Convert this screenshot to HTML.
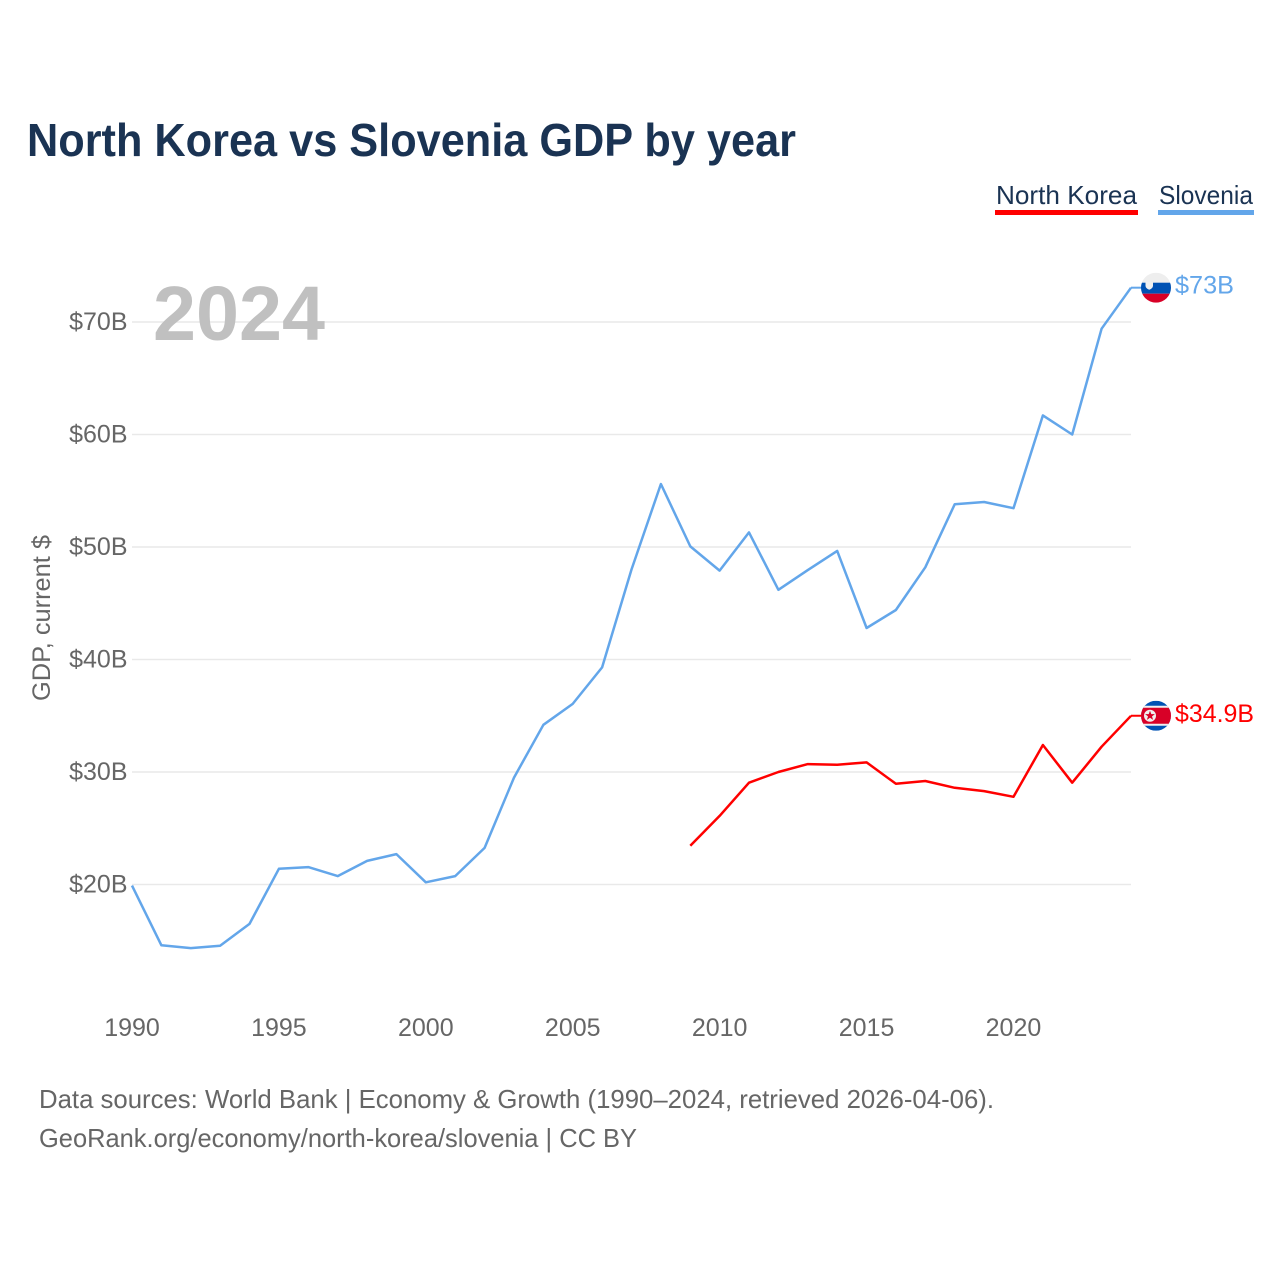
<!DOCTYPE html>
<html lang="en">
<head>
<meta charset="utf-8">
<title>North Korea vs Slovenia GDP by year</title>
<style>
html,body{margin:0;padding:0;background:#fff;width:1280px;height:1280px;overflow:hidden}
svg{display:block}
text{font-family:"Liberation Sans",sans-serif}
</style>
</head>
<body>
<svg id="chart" width="1280" height="1280" viewBox="0 0 1280 1280" xmlns="http://www.w3.org/2000/svg">
  <defs>
    <clipPath id="flag-clip-si"><circle cx="15" cy="15" r="15"/></clipPath>
    <clipPath id="flag-clip-kp"><circle cx="15" cy="15" r="15"/></clipPath>
  </defs>
  <rect width="1280" height="1280" fill="#fff"/>
  <text x="27" y="156" font-size="46" font-weight="700" fill="#1a3353" textLength="769" lengthAdjust="spacingAndGlyphs">North Korea vs Slovenia GDP by year</text>

  <g>
    <text x="996" y="204" font-size="26" fill="#1a3353" textLength="141" lengthAdjust="spacingAndGlyphs">North Korea</text>
    <rect x="995" y="210" width="143" height="5" fill="#ff0000"/>
    <text x="1159" y="204" font-size="26" fill="#1a3353" textLength="94" lengthAdjust="spacingAndGlyphs">Slovenia</text>
    <rect x="1158" y="210" width="96" height="5" fill="#63a6ea"/>
  </g>

  <g id="grid"></g>
  <g id="yticks"></g>
  <g id="xticks"></g>

  <text x="153" y="340" font-size="77" font-weight="700" fill="#c0c0c0" textLength="172" lengthAdjust="spacingAndGlyphs">2024</text>
  <text transform="translate(50,701) rotate(-90)" font-size="25" fill="#666" textLength="166" lengthAdjust="spacingAndGlyphs">GDP, current $</text>

  <g id="series"></g>
  <g id="ends"></g>

  <text x="39" y="1108" font-size="26" fill="#666" textLength="955" lengthAdjust="spacingAndGlyphs">Data sources: World Bank | Economy &amp; Growth (1990–2024, retrieved 2026-04-06).</text>
  <text x="39" y="1147" font-size="26" fill="#666" textLength="598" lengthAdjust="spacingAndGlyphs">GeoRank.org/economy/north-korea/slovenia | CC BY</text>
</svg>
<script>
const slovenia = [19.9,14.6,14.35,14.55,16.5,21.4,21.55,20.75,22.1,22.7,20.2,20.75,23.25,29.5,34.2,36.05,39.3,48,55.6,50.05,47.9,51.3,46.2,47.95,49.65,42.8,44.4,48.2,53.8,54.0,53.45,61.7,60,69.4,73.05];
const northKoreaYears = [2009,2010,2011,2012,2013,2014,2015,2016,2017,2018,2019,2020,2021,2022,2023,2024];
const northKorea = [23.45,26.1,29.05,30,30.7,30.65,30.85,28.95,29.2,28.6,28.3,27.8,32.4,29.05,32.25,35.0];
const sloveniaStartYear = 1990;
const yTicks = [20,30,40,50,60,70];
const xTicks = [1990,1995,2000,2005,2010,2015,2020];
const sloveniaEndLabel = "$73B";
const northKoreaEndLabel = "$34.9B";

const SVGNS = "http://www.w3.org/2000/svg";
const xScale = year => 132 + (year - 1990) * (1131 - 132) / 34;
const yScale = value => 884.5 - (value - 20) * 11.25;

function make(tag, attrs, parent) {
  const el = document.createElementNS(SVGNS, tag);
  for (const key in attrs) el.setAttribute(key, attrs[key]);
  parent.appendChild(el);
  return el;
}

const grid = document.getElementById("grid");
const yticks = document.getElementById("yticks");
const xticks = document.getElementById("xticks");
const series = document.getElementById("series");
const ends = document.getElementById("ends");

yTicks.forEach(v => {
  const line = make("line", {x1: 132, x2: 1131, y1: yScale(v), y2: yScale(v), stroke: "#e9e9e9", "stroke-width": 1.5}, grid);
  
  
  const label = make("text", {x: 127.5, y: yScale(v) + 8, "text-anchor": "end", "font-size": 25, fill: "#666"}, yticks);
  label.textContent = "$" + v + "B";
  
  
});

xTicks.forEach(y => {
  const label = make("text", {x: xScale(y), y: 1036, "text-anchor": "middle", "font-size": 25, fill: "#666"}, xticks);
  label.textContent = y;
  
  
});

const siPts = slovenia.map((v, i) => xScale(sloveniaStartYear + i).toFixed(1) + "," + yScale(v).toFixed(1)).join(" ");
const siLine = make("polyline", {points: siPts, fill: "none", stroke: "#63a6ea", "stroke-width": 2.5, "stroke-linejoin": "round"}, series);



const kpPts = northKorea.map((v, i) => xScale(northKoreaYears[i]).toFixed(1) + "," + yScale(v).toFixed(1)).join(" ");
const kpLine = make("polyline", {points: kpPts, fill: "none", stroke: "#ff0000", "stroke-width": 2.5, "stroke-linejoin": "round"}, series);



/* Slovenia end marker */
const siY = yScale(slovenia[slovenia.length - 1]);
const siConn = make("line", {x1: xScale(2024), x2: 1142, y1: siY, y2: siY, stroke: "#63a6ea", "stroke-width": 2}, ends);


const siFlag = make("g", {transform: "translate(1141," + (siY - 15) + ")", "clip-path": "url(#flag-clip-si)"}, ends);


make("rect", {x: 0, y: 0, width: 30, height: 10, fill: "#eeeeee"}, siFlag);
make("rect", {x: 0, y: 10, width: 30, height: 11, fill: "#0052b4"}, siFlag);
make("rect", {x: 0, y: 21, width: 30, height: 9, fill: "#d80027"}, siFlag);
make("path", {d: "M4.5 9.5h7.5v3.5q0 2.5-3.75 4q-3.75-1.5-3.75-4z", fill: "#f0f0f0"}, siFlag);
const siText = make("text", {x: 1175, y: siY + 6, "font-size": 25, fill: "#63a6ea", textLength: 59, lengthAdjust: "spacingAndGlyphs"}, ends);
siText.textContent = sloveniaEndLabel;



/* North Korea end marker */
const kpY = yScale(northKorea[northKorea.length - 1]);
const kpConn = make("line", {x1: xScale(2024), x2: 1142, y1: kpY, y2: kpY, stroke: "#ff0000", "stroke-width": 2}, ends);


const kpFlag = make("g", {transform: "translate(1141," + (kpY - 15) + ")", "clip-path": "url(#flag-clip-kp)"}, ends);


make("rect", {x: 0, y: 0, width: 30, height: 30, fill: "#0052b4"}, kpFlag);
make("rect", {x: 0, y: 5, width: 30, height: 20, fill: "#f0f0f0"}, kpFlag);
make("rect", {x: 0, y: 7, width: 30, height: 16, fill: "#d80027"}, kpFlag);
make("circle", {cx: 9, cy: 15, r: 6, fill: "#f0f0f0"}, kpFlag);
make("path", {d: "M9 10l1.3 3.4h3.6l-2.9 2.2 1.1 3.5-3.1-2.1-3.1 2.1 1.1-3.5-2.9-2.2h3.6z", fill: "#d80027"}, kpFlag);
const kpText = make("text", {x: 1175, y: kpY + 6, "font-size": 25, fill: "#ff0000", textLength: 79, lengthAdjust: "spacingAndGlyphs"}, ends);
kpText.textContent = northKoreaEndLabel;


</script>
</body>
</html>
